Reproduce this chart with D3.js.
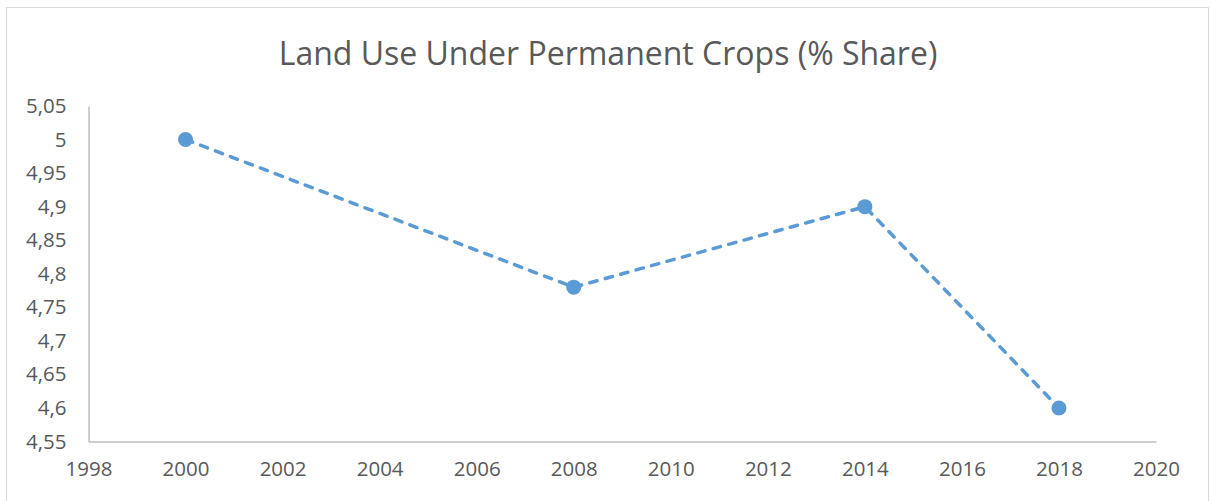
<!DOCTYPE html>
<html><head><meta charset="utf-8">
<script src="https://cdn.jsdelivr.net/npm/d3@7"></script>
<style>
html,body{margin:0;padding:0;background:#fff;}
svg{display:block;}
</style></head>
<body><svg id="c" width="1211" height="501"></svg>
<script>
const title = "Land Use Under Permanent Crops (% Share)";
const years = [2000, 2008, 2014, 2018];
const values = [5.0, 4.78, 4.9, 4.6];
const xTicks = [1998, 2000, 2002, 2004, 2006, 2008, 2010, 2012, 2014, 2016, 2018, 2020];
const yTicks = [4.55, 4.6, 4.65, 4.7, 4.75, 4.8, 4.85, 4.9, 4.95, 5.0, 5.05];

const svg = d3.select("#c");
const font = "'Open Sans', 'Liberation Sans', sans-serif";
const textColor = "#595959";
const lineColor = "#5b9bd5";

svg.append("rect").attr("x", 6.5).attr("y", 7.5).attr("width", 1202).attr("height", 520)
  .attr("fill", "#fff").attr("stroke", "#d9d9d9").attr("stroke-width", 1);

const x = d3.scaleLinear().domain([1998, 2020]).range([88.5, 1156]);
const y = d3.scaleLinear().domain([4.55, 5.05]).range([441.5, 106]);

svg.append("text").attr("x", 608).attr("y", 65).attr("text-anchor", "middle")
  .attr("font-family", font).attr("font-size", 32).attr("fill", textColor).text(title);

const fmt = d => String(+d.toFixed(2)).replace(".", ",");

const yAxis = svg.append("g").attr("transform", "translate(88.5,0)")
  .call(d3.axisLeft(y).tickValues(yTicks).tickFormat(fmt).tickSize(0).tickPadding(22));
yAxis.select(".domain").attr("stroke", "#bfbfbf").attr("stroke-width", 1.5);
yAxis.selectAll("text").attr("font-family", font).attr("font-size", 20.5).attr("fill", textColor);

const xAxis = svg.append("g").attr("transform", "translate(0,441.5)")
  .call(d3.axisBottom(x).tickValues(xTicks).tickFormat(d3.format("d")).tickSize(0).tickPadding(20));
xAxis.select(".domain").attr("stroke", "#bfbfbf").attr("stroke-width", 1.5);
xAxis.selectAll("text").attr("font-family", font).attr("font-size", 20.5).attr("fill", textColor);

const pts = years.map((yr, i) => [yr, values[i]]);
svg.append("path").datum(pts)
  .attr("d", d3.line().x(d => x(d[0])).y(d => y(d[1])))
  .attr("fill", "none").attr("stroke", lineColor).attr("stroke-width", 3.5)
  .attr("stroke-dasharray", "7.5 8.5").attr("stroke-linecap", "round");

svg.selectAll("circle.pt").data(pts).enter().append("circle")
  .attr("cx", d => x(d[0])).attr("cy", d => y(d[1])).attr("r", 7.5)
  .attr("fill", lineColor);
</script></body></html>
